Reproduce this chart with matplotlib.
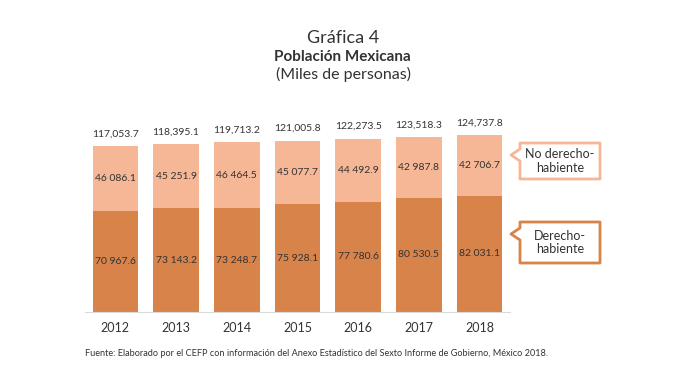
import numpy as np
import matplotlib.pyplot as plt
from matplotlib.patches import Polygon

years = ['2012', '2013', '2014', '2015', '2016', '2017', '2018']
derecho = [70967.6, 73143.2, 73248.7, 75928.1, 77780.6, 80530.5, 82031.1]
no_derecho = [46086.1, 45251.9, 46464.5, 45077.7, 44492.9, 42987.8, 42706.7]
totales = [117053.7, 118395.1, 119713.2, 121005.8, 122273.5, 123518.3, 124737.8]

dark = '#D8834A'
light = '#F5B795'
txt = '#333333'
plt.rcParams['font.family'] = ['Lato', 'DejaVu Sans']

W, H = 700, 380
fig = plt.figure(figsize=(7, 3.8), dpi=100)
ax = fig.add_axes([85 / W, (H - 312) / H, 425 / W, 221 / H])

x = np.arange(len(years))
ax.bar(x, derecho, width=0.75, color=dark)
ax.bar(x, no_derecho, width=0.75, bottom=derecho, color=light)

def sp(v):
    return f'{v:,.1f}'.replace(',', ' ')

for i in range(len(years)):
    ax.text(x[i], derecho[i] / 2, sp(derecho[i]), ha='center', va='center',
            fontsize=7.5, color=txt)
    ax.text(x[i], derecho[i] + no_derecho[i] / 2, sp(no_derecho[i]),
            ha='center', va='center', fontsize=7.5, color=txt)
    ax.text(x[i], totales[i] + 5500, f'{totales[i]:,.1f}', ha='center',
            va='bottom', fontsize=7.5, color=txt)

ax.set_xlim(-0.5, 6.5)
ax.set_ylim(0, 156000)
ax.set_xticks(x)
ax.set_xticklabels(years, fontsize=9, color=txt)
ax.tick_params(axis='x', length=0, pad=7)
ax.set_yticks([])
for s in ['top', 'left', 'right']:
    ax.spines[s].set_visible(False)
ax.spines['bottom'].set_color('#D9D9D9')
ax.spines['bottom'].set_linewidth(0.8)

# titles
fig.text(343 / W, 1 - 38 / H, 'Gráfica 4', ha='center', va='center', fontsize=13, color=txt)
fig.text(342 / W, 1 - 57 / H, 'Población Mexicana', ha='center', va='center',
         fontsize=11, fontweight='bold', color=txt)
fig.text(343 / W, 1 - 74 / H, '(Miles de personas)', ha='center', va='center',
         fontsize=11.5, color=txt)

fig.text(85 / W, 1 - 354 / H,
         'Fuente: Elaborado por el CEFP con información del Anexo Estadístico del Sexto Informe de Gobierno, México 2018.',
         ha='left', va='center', fontsize=6.6, color=txt)

# callouts (pixel coords, top origin)
def callout(x0, y0, x1, y1, tx, ty, n0, n1, color, label):
    pts = [(x0, y0), (x1, y0), (x1, y1), (x0, y1), (x0, n1), (tx, ty), (x0, n0)]
    pts = [(px / W, 1 - py / H) for px, py in pts]
    fig.patches.append(Polygon(pts, closed=True, facecolor='white', edgecolor=color,
                               linewidth=2, joinstyle='round', transform=fig.transFigure))
    fig.text((x0 + x1) / 2 / W, 1 - (y0 + y1) / 2 / H, label, ha='center', va='center',
             fontsize=9, color=txt, linespacing=1.15)

callout(520, 143, 600, 179, 511, 155, 149, 161, light, 'No derecho-\nhabiente')
callout(520, 222, 600, 263, 511, 234, 228, 240, dark, 'Derecho-\nhabiente')

fig.savefig('out.png', dpi=100, facecolor='white')
